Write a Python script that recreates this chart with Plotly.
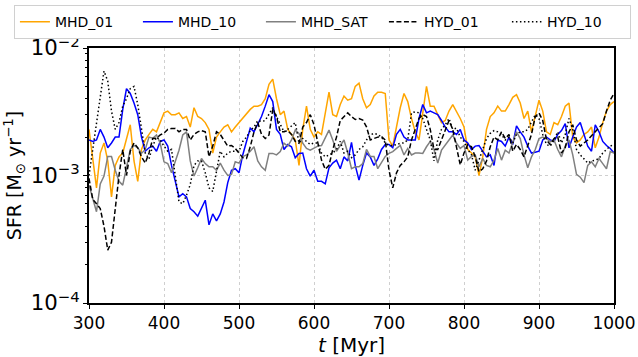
import plotly.graph_objects as go

t_myr = list(range(300, 1001, 5))
unit = 1e-3  # values below are in units of 1e-3 Msun/yr

mhd_01 = [2.3, 1.4, 0.8, 1.5, 1.8, 1.3, 0.68, 1.2, 1.4, 1.5,
          1.9, 2.5, 1.3, 0.9, 1.6, 1.9, 2.1, 2.3, 2.2, 2.6,
          3.1, 3.2, 3.0, 3.0, 3.1, 2.8, 2.9, 2.4, 3.4, 2.9,
          2.8, 2.6, 2.3, 1.5, 2.0, 2.2, 2.4, 2.5, 2.2, 2.4,
          2.6, 2.8, 3.0, 3.3, 3.5, 3.5, 3.6, 4.0, 5.2, 5.7,
          4.0, 3.0, 3.2, 2.3, 2.1, 1.9, 1.2, 2.3, 3.5, 2.3,
          2.0, 2.2, 2.1, 3.2, 4.5, 3.0, 2.9, 3.6, 4.2, 3.9,
          4.0, 5.0, 5.3, 4.0, 3.4, 3.6, 4.2, 4.5, 4.5, 4.4,
          1.9, 1.7, 2.4, 3.4, 4.4, 3.8, 2.8, 2.2, 1.9, 3.2,
          5.0, 3.5, 3.5, 3.0, 2.6, 2.7, 3.2, 3.6, 3.2, 2.8,
          2.4, 1.6, 1.5, 1.4, 1.0, 1.4, 2.3, 2.9, 3.1, 3.5,
          3.2, 3.2, 3.6, 4.1, 4.3, 3.7, 2.8, 3.2, 2.2, 3.0,
          3.9, 3.2, 2.2, 2.1, 2.6, 2.5, 2.9, 3.5, 3.7, 2.0,
          1.8, 1.9, 2.1, 2.2, 2.4, 1.65, 2.0, 2.6, 3.2, 3.6,
          3.8]

mhd_10 = [1.9, 1.85, 1.9, 2.3, 2.0, 1.65, 1.8, 2.0, 2.0, 3.3,
          4.8, 4.4, 3.7, 3.0, 2.0, 1.55, 1.65, 1.7, 1.55, 1.85,
          1.9, 1.7, 1.2, 0.9, 0.68, 0.72, 0.68, 0.55, 0.52, 0.48,
          0.55, 0.64, 0.41, 0.50, 0.44, 0.50, 0.62, 0.88, 1.1, 1.13,
          1.05, 1.45, 1.85, 2.35, 2.2, 2.5, 2.9, 3.5, 4.3, 3.8,
          2.3, 2.1, 1.6, 1.75, 1.68, 1.38, 1.49, 1.5, 1.13, 0.99,
          1.1, 0.9, 0.9, 0.86, 1.15, 1.25, 1.32, 1.13, 1.4, 1.3,
          1.82, 1.2, 0.92, 1.2, 1.5, 1.4, 1.2, 1.35, 1.6, 1.75,
          1.75, 1.65, 2.1, 2.3, 2.0, 1.9, 1.9, 1.9, 2.8, 3.6,
          3.1, 3.2, 3.1, 3.0, 2.7, 2.4, 2.2, 2.2, 2.1, 2.3,
          1.9, 1.8, 1.6, 1.7, 1.72, 1.55, 1.4, 1.45, 1.2, 1.9,
          1.85, 1.7, 2.0, 1.75, 2.45, 2.2, 2.0, 1.7, 1.5, 1.52,
          1.55, 1.9, 2.0, 1.9, 1.85, 2.1, 2.25, 2.55, 1.65, 2.0,
          2.4, 2.6, 2.1, 1.7, 1.55, 2.5, 2.2, 1.85, 1.72, 1.63,
          1.5]

mhd_sat = [0.84, 0.65, 0.52, 0.86, 0.99, 1.41, 1.41, 1.1, 0.9, 0.84,
           1.2, 1.6, 1.72, 1.65, 1.49, 1.6, 2.0, 1.96, 2.08, 1.79,
           1.28, 1.24, 1.05, 1.3, 1.58, 2.08, 2.2, 1.3, 0.99, 1.15,
           1.36, 1.24, 1.17, 1.17, 1.1, 1.25, 1.1, 1.0, 1.02, 1.28,
           1.25, 1.41, 1.45, 1.55, 1.68, 1.3, 1.17, 1.1, 1.49, 1.49,
           1.45, 1.54, 1.79, 1.7, 1.9, 2.27, 2.14, 1.79, 1.63, 1.58,
           1.63, 1.7, 1.72, 1.96, 2.27, 1.9, 1.55, 1.72, 1.9, 1.5,
           1.13, 1.17, 1.17, 1.24, 1.6, 1.41, 1.41, 1.13, 1.28, 1.41,
           1.49, 1.54, 1.63, 1.72, 1.45, 1.63, 1.45, 1.5, 1.5, 1.49,
           1.68, 1.85, 1.6, 1.25, 1.58, 1.72, 1.9, 2.08, 1.79, 1.63,
           1.72, 1.32, 1.41, 1.45, 1.17, 1.36, 1.2, 1.17, 1.32, 1.63,
           1.32, 1.58, 1.5, 1.8, 2.2, 1.95, 1.45, 1.15, 1.4, 1.6,
           1.95, 2.0, 1.95, 1.84, 1.9, 1.6, 1.4, 1.7, 1.9, 1.45,
           1.02, 0.97, 0.88, 1.2, 1.28, 1.17, 1.36, 1.24, 1.13, 1.54,
           1.5]

hyd_01 = [0.95, 0.65, 0.6, 0.55, 0.4, 0.26, 0.3, 0.55, 1.0, 1.6,
          1.0, 1.55, 1.8, 1.65, 1.4, 1.25, 1.5, 1.95, 1.96, 2.08,
          2.15, 2.3, 2.34, 2.34, 2.2, 2.3, 2.3, 1.9, 2.1, 2.2,
          2.25, 2.2, 1.4, 1.7, 2.2, 2.1, 1.9, 1.7, 1.72, 1.63,
          1.5, 1.38, 1.36, 1.68, 2.2, 2.6, 2.1, 1.95, 2.08, 3.3,
          2.9, 2.2, 2.2, 2.25, 2.1, 1.85, 1.79, 2.4, 2.6, 3.0,
          2.5, 1.8, 1.32, 1.12, 1.2, 1.6, 2.0, 2.7, 2.9, 3.1,
          2.9, 2.75, 2.8, 2.72, 2.41, 1.9, 1.95, 2.0, 2.02, 1.9,
          1.1, 0.8, 1.05, 1.2, 1.28, 1.4, 1.9, 2.3, 2.8, 3.0,
          2.9, 2.3, 1.6, 1.6, 1.9, 2.3, 2.7, 2.3, 1.68, 1.21,
          1.5, 1.75, 1.68, 1.4, 1.07, 1.13, 1.3, 1.68, 2.0, 1.9,
          2.2, 1.95, 2.1, 1.55, 1.75, 1.6, 1.4, 1.75, 2.1, 2.9,
          3.1, 2.7, 1.9, 1.75, 1.95, 2.0, 1.5, 1.65, 2.2, 2.5,
          1.9, 1.7, 1.8, 1.9, 2.05, 2.2, 2.4, 2.55, 3.2, 3.9,
          4.4]

hyd_10 = [1.0, 1.6, 2.8, 4.5, 6.6, 5.5, 3.2, 2.3, 2.6, 3.5,
          4.0, 4.8, 5.0, 3.6, 2.4, 1.5, 1.35, 1.7, 2.0, 1.9,
          1.7, 1.55, 1.6, 1.0, 0.62, 0.6, 0.7, 0.85, 1.2, 1.3,
          1.3, 1.05, 0.8, 0.75, 1.05, 1.55, 1.4, 1.5, 1.55, 1.55,
          1.55, 1.85, 2.0, 2.25, 2.4, 2.7, 2.65, 2.7, 3.0, 3.4,
          2.9, 2.5, 2.2, 2.3, 2.45, 2.6, 1.8, 1.95, 1.85, 1.75,
          1.8, 1.8, 1.5, 1.4, 1.45, 1.5, 1.6, 1.85, 1.5, 1.55,
          1.38, 1.45, 1.6, 1.68, 1.9, 2.08, 2.14, 2.1, 2.0, 1.8,
          1.72, 1.72, 1.75, 1.79, 1.8, 1.9, 3.1, 3.16, 3.1, 2.8,
          2.3, 1.9, 1.3, 1.9, 2.3, 2.5, 2.8, 2.3, 2.35, 2.0,
          1.85, 1.6, 1.45, 1.1, 1.32, 1.6, 1.95, 2.14, 2.25, 2.2,
          2.1, 1.9, 2.0, 1.8, 2.1, 2.2, 2.2, 2.3, 2.6, 3.0,
          2.8, 2.1, 1.75, 1.7, 1.9, 2.2, 1.8, 2.1, 2.8, 2.3,
          1.6, 1.45, 1.35, 1.25, 1.3, 1.32, 1.36, 1.5, 1.6, 1.7,
          1.75]

series = [
    ("MHD_01", mhd_01, "#FFA500", "solid"),
    ("MHD_10", mhd_10, "#0000FF", "solid"),
    ("MHD_SAT", mhd_sat, "#808080", "solid"),
    ("HYD_01", hyd_01, "#000000", "5px,2.5px"),
    ("HYD_10", hyd_10, "#000000", "1.5px,2.5px"),
]

fig = go.Figure()
for name, vals, color, dash in series:
    fig.add_trace(go.Scatter(
        x=t_myr, y=[v * unit for v in vals], mode="lines", name=name,
        line=dict(color=color, width=1.5, dash=dash),
    ))

FONT = "DejaVu Sans"
fig.update_layout(
    template="none",
    width=638, height=357,
    margin=dict(l=89, r=24, t=48, b=54, autoexpand=False),
    paper_bgcolor="white", plot_bgcolor="white",
    font=dict(family=FONT, size=17, color="black"),
    showlegend=True,
    legend=dict(
        orientation="h", xref="paper", yref="paper",
        x=-0.143, xanchor="left", y=1.168, yanchor="top",
        bordercolor="#d0d0d0", borderwidth=1, bgcolor="white",
        font=dict(family=FONT, size=14), entrywidth=78, itemwidth=30,
    ),
)
fig.update_xaxes(
    range=[300, 1000], tick0=0, dtick=100, automargin=False,
    ticks="outside", ticklen=4, tickwidth=1.2, tickcolor="black",
    showline=True, linewidth=2, linecolor="black", mirror=True,
    showgrid=True, gridcolor="#cfcfcf", griddash="3px,3px", gridwidth=0.8,
    zeroline=False,
    title=dict(text="<i>t</i> [Myr]", font=dict(size=20), standoff=4),
)
fig.update_yaxes(
    type="log", range=[-4, -2], dtick=1, exponentformat="power", automargin=False,
    ticks="outside", ticklen=4, tickwidth=1.2, tickcolor="black",
    minor=dict(dtick="D1", ticks="outside", ticklen=2.5, tickwidth=1, tickcolor="black", showgrid=False),
    showline=True, linewidth=2, linecolor="black", mirror=True,
    showgrid=True, gridcolor="#cfcfcf", griddash="3px,3px", gridwidth=0.8,
    zeroline=False,
    title=dict(text="SFR [M<sub>⊙</sub> yr<sup>−1</sup>]", font=dict(size=19), standoff=4),
)

fig.write_html("out.html")
